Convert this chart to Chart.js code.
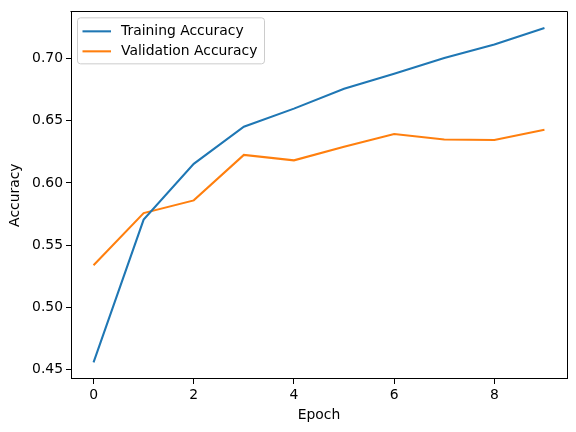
<!DOCTYPE html>
<html>
<head>
<meta charset="utf-8">
<script src="https://cdn.jsdelivr.net/npm/chart.js@4.4.0/dist/chart.umd.min.js"></script>
<style>
  html, body { margin: 0; padding: 0; background: #fff; }
  canvas { display: block; }
</style>
</head>
<body>
<canvas id="acc-chart" width="576" height="432"></canvas>
<script>
// epochs and accuracy per epoch
const epochs = [0, 1, 2, 3, 4, 5, 6, 7, 8, 9];
const trainAcc = [0.4558, 0.5706, 0.6154, 0.6452, 0.6598, 0.6758, 0.6878, 0.7004, 0.7114, 0.7246];
const valAcc = [0.5338, 0.5758, 0.5860, 0.6226, 0.6182, 0.6292, 0.6394, 0.6350, 0.6346, 0.6428];
const xTicks = [0, 2, 4, 6, 8];
const yTicks = [0.45, 0.50, 0.55, 0.60, 0.65, 0.70];

const FONT = 'DejaVu Sans';
const FONT_SIZE = 13.9;
const LINE_W = 2.08;
const COLORS = { train: '#1f77b4', val: '#ff7f0e' };

// draw the top and right spines so the plot is boxed like matplotlib
const frame = {
  id: 'frame',
  afterDraw(chart) {
    const { ctx, chartArea: a } = chart;
    ctx.save();
    ctx.strokeStyle = '#000';
    ctx.lineWidth = 1;
    ctx.beginPath();
    ctx.moveTo(Math.round(a.left) - 0.5, Math.round(a.top) + 0.5);
    ctx.lineTo(Math.round(a.right) + 0.5, Math.round(a.top) + 0.5);
    ctx.lineTo(Math.round(a.right) + 0.5, Math.round(a.bottom));
    ctx.stroke();
    ctx.restore();
  }
};

// legend inside the axes, upper left
const innerLegend = {
  id: 'innerLegend',
  afterDatasetsDraw(chart) {
    const { ctx, chartArea: a } = chart;
    const x0 = a.left + 6.5, y0 = a.top + 6.5, w = 187, h = 46;
    ctx.save();
    ctx.beginPath();
    ctx.roundRect(x0, y0, w, h, 3);
    ctx.fillStyle = 'rgba(255,255,255,0.8)';
    ctx.fill();
    ctx.strokeStyle = '#cccccc';
    ctx.lineWidth = 1;
    ctx.stroke();
    ctx.font = FONT_SIZE + 'px "' + FONT + '"';
    ctx.textBaseline = 'middle';
    chart.data.datasets.forEach((ds, i) => {
      const y = a.top + 20 + i * 20;
      ctx.strokeStyle = ds.borderColor;
      ctx.lineWidth = LINE_W;
      ctx.beginPath();
      ctx.moveTo(a.left + 11.5, y);
      ctx.lineTo(a.left + 40, y);
      ctx.stroke();
      ctx.fillStyle = '#000';
      ctx.fillText(ds.label, a.left + 50, y + 0.5);
    });
    ctx.restore();
  }
};

const canvas = document.getElementById('acc-chart');

new Chart(canvas, {
  type: 'line',
  data: {
    datasets: [
      {
        label: 'Training Accuracy',
        data: epochs.map((e, i) => ({ x: e, y: trainAcc[i] })),
        borderColor: COLORS.train,
        borderWidth: LINE_W,
        pointRadius: 0,
        tension: 0,
      },
      {
        label: 'Validation Accuracy',
        data: epochs.map((e, i) => ({ x: e, y: valAcc[i] })),
        borderColor: COLORS.val,
        borderWidth: LINE_W,
        pointRadius: 0,
        tension: 0,
      }
    ]
  },
  options: {
    responsive: false,
    animation: false,
    devicePixelRatio: 1,
    layout: { padding: { top: 9, right: 9, left: 0, bottom: 0 } },
    plugins: {
      legend: { display: false },
      tooltip: { enabled: false },
    },
    scales: {
      x: {
        type: 'linear',
        min: -0.45,
        max: 9.45,
        afterBuildTicks: s => { s.ticks = xTicks.map(v => ({ value: v })); },
        afterFit: s => { s.height = 53; },
        grid: { drawOnChartArea: false, drawTicks: true, tickLength: 5, tickColor: '#000', tickWidth: 1 },
        border: { display: true, color: '#000', width: 1 },
        ticks: { color: '#000', padding: 3, font: { family: FONT, size: FONT_SIZE }, maxRotation: 0 },
        title: { display: true, text: 'Epoch', color: '#000', font: { family: FONT, size: FONT_SIZE }, padding: { top: 0, bottom: 8.7 } },
      },
      y: {
        type: 'linear',
        min: 0.4424,
        max: 0.738,
        afterBuildTicks: s => { s.ticks = yTicks.map(v => ({ value: v })); },
        afterFit: s => { s.width = 71; },
        grid: { drawOnChartArea: false, drawTicks: true, tickLength: 5, tickColor: '#000', tickWidth: 1 },
        border: { display: true, color: '#000', width: 1 },
        ticks: { color: '#000', padding: 3, font: { family: FONT, size: FONT_SIZE }, callback: v => v.toFixed(2) },
        title: { display: true, text: 'Accuracy', color: '#000', font: { family: FONT, size: FONT_SIZE }, padding: { top: 7.2, bottom: 0 } },
      }
    }
  },
  plugins: [frame, innerLegend]
});
</script>
</body>
</html>
